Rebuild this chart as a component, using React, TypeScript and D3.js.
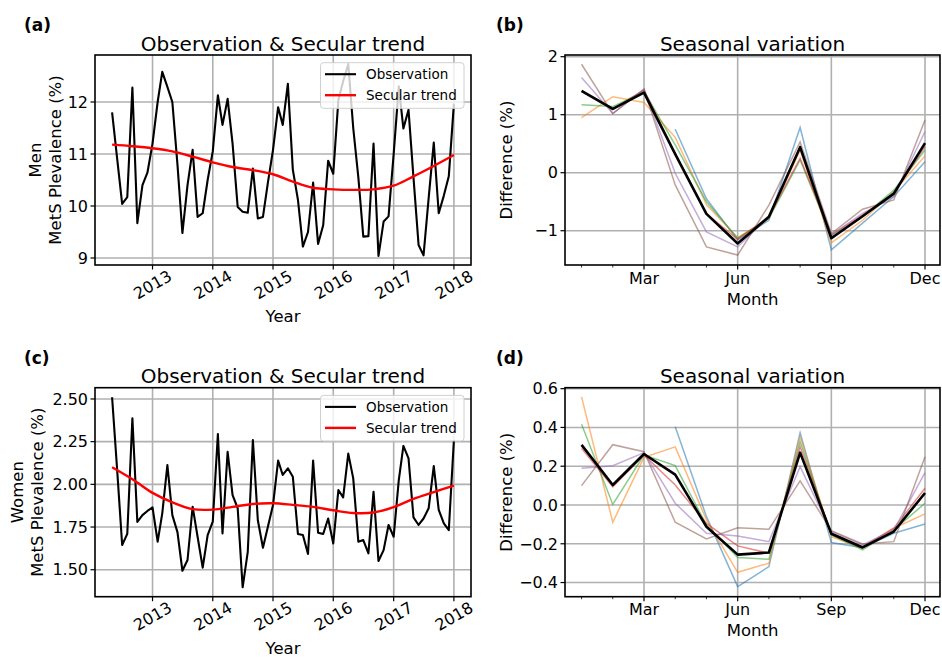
import React from "react";
import * as d3 from "d3";

const FONT = "'DejaVu Sans', Verdana, sans-serif";

// ---------- data ----------
const startMonth = new Date(2012, 4, 1); // May 2012, monthly to Jan 2018
const menObs = [
  11.80, 10.90, 10.04, 10.17, 12.28, 9.67, 10.40, 10.64,
  11.20, 12.00, 12.58, 12.29, 12.00, 10.80, 9.48, 10.40, 11.08, 9.79, 9.86, 10.50, 11.05, 12.13, 11.56, 12.06,
  11.20, 9.98, 9.89, 9.87, 10.72, 9.76, 9.79, 10.45, 11.08, 11.90, 11.56, 12.35,
  10.70, 10.12, 9.22, 9.50, 10.45, 9.27, 9.63, 10.87, 10.62, 12.04, 12.40, 12.73,
  11.50, 10.55, 9.41, 9.42, 11.20, 9.04, 9.70, 9.80, 11.00, 12.30, 11.49, 11.85,
  10.55, 9.25, 9.05, 10.15, 11.22, 9.86, 10.20, 10.57, 11.97,
];
const womenObs = [
  2.51, 2.08, 1.645, 1.71, 2.387, 1.78, 1.82, 1.844,
  1.865, 1.664, 1.83, 2.113, 1.82, 1.72, 1.494, 1.557, 1.869, 1.693, 1.512, 1.703, 1.781, 2.295,
  1.713, 2.19, 1.937, 1.86, 1.397, 1.605, 2.26, 1.79, 1.629, 1.752, 1.879, 2.139,
  2.055, 2.094, 2.045, 1.709, 1.703, 1.592, 2.139, 1.717, 1.709, 1.80, 1.654, 1.967,
  1.924, 2.18, 2.035, 1.664, 1.674, 1.596, 1.957, 1.551, 1.615, 1.762, 1.693, 2.025,
  2.225, 2.152, 1.807, 1.762, 1.80, 1.86, 2.107, 1.85, 1.771, 1.732, 2.26,
];
const trendStepMonths = 4;
const menTrend = [11.18, 11.15, 11.11, 11.05, 10.95, 10.84, 10.75, 10.69, 10.61, 10.47, 10.35, 10.32, 10.31, 10.32, 10.39, 10.57, 10.77, 10.98];
const womenTrend = [2.10, 2.03, 1.95, 1.895, 1.855, 1.852, 1.868, 1.885, 1.889, 1.88, 1.868, 1.848, 1.832, 1.835, 1.866, 1.915, 1.955, 1.993];

const yearTicks = [2013, 2014, 2015, 2016, 2017, 2018];
const menYTicks = [9, 10, 11, 12];
const womenYTicks = [1.5, 1.75, 2.0, 2.25, 2.5];
const menSeasonYTicks = [-1, 0, 1, 2];
const womenSeasonYTicks = [-0.4, -0.2, 0.0, 0.2, 0.4, 0.6];

const monthNames = ["Jan", "Feb", "Mar", "Apr", "May", "Jun", "Jul", "Aug", "Sep", "Oct", "Nov", "Dec"];
const majorMonths = [2, 5, 8, 11];
const seriesColors = ["#1f77b4", "#ff7f0e", "#2ca02c", "#d62728", "#9467bd", "#8c564b"];

const menSeasonC0 = [null, null, null, 0.75, -0.45, -1.16, -0.82, 0.78, -1.33, -0.87, -0.41, 0.19];
const menSeasonC1 = [0.95, 1.31, 1.21, 0.61, -0.55, -1.12, -0.79, 0.39, -1.21, -0.82, -0.33, 0.29];
const menSeasonC2 = [1.17, 1.14, 1.40, 0.48, -0.50, -1.13, -0.79, 0.22, -1.09, -0.76, -0.30, 0.39];
const menSeasonC3 = [1.40, 1.09, 1.43, 0.33, -0.71, -1.15, -0.76, 0.25, -1.07, -0.73, -0.36, 0.45];
const menSeasonC4 = [1.64, 1.02, 1.44, -0.01, -1.02, -1.28, -0.76, 0.45, -1.07, -0.70, -0.41, 0.71];
const menSeasonC5 = [1.87, 1.02, 1.44, -0.21, -1.28, -1.42, -0.56, 0.53, -1.05, -0.63, -0.47, 0.91];
const menSeasonMean = [1.41, 1.10, 1.38, 0.32, -0.71, -1.22, -0.76, 0.44, -1.13, -0.75, -0.36, 0.51];

const womenSeasonC0 = [null, null, null, 0.404, -0.06, -0.421, -0.318, 0.373, -0.194, -0.22, -0.146, -0.098];
const womenSeasonC1 = [0.558, -0.089, 0.246, 0.30, -0.077, -0.347, -0.30, 0.352, -0.163, -0.223, -0.12, -0.046];
const womenSeasonC2 = [0.416, 0.003, 0.258, 0.203, -0.103, -0.271, -0.28, 0.326, -0.155, -0.232, -0.129, 0.009];
const womenSeasonC3 = [0.292, 0.094, 0.258, 0.103, -0.095, -0.211, -0.249, 0.30, -0.146, -0.215, -0.12, 0.086];
const womenSeasonC4 = [0.189, 0.203, 0.27, 0.009, -0.146, -0.16, -0.189, 0.198, -0.137, -0.206, -0.129, 0.167];
const womenSeasonC5 = [0.10, 0.311, 0.275, -0.089, -0.175, -0.117, -0.125, 0.124, -0.132, -0.201, -0.189, 0.249];
const womenSeasonMean = [0.31, 0.103, 0.263, 0.157, -0.112, -0.256, -0.245, 0.27, -0.148, -0.219, -0.137, 0.062];

// ---------- layout ----------
const ROWS = [
  { top: 55, bottom: 265 },
  { top: 387.7, bottom: 596.7 },
];
const LEFT_COL = { left: 95, right: 471 };
const RIGHT_COL = { left: 565, right: 940 };
const GRID = "#b0b0b0";
const TICK_FS = 16;
const LABEL_FS = 16.5;
const TITLE_FS = 20;

type Box = { left: number; right: number; top: number; bottom: number };

function Frame({ b }: { b: Box }) {
  return (
    <rect x={b.left} y={b.top} width={b.right - b.left} height={b.bottom - b.top}
      fill="none" stroke="#000" strokeWidth={1.6} />
  );
}

function YAxis({ b, y, ticks, fmt }: { b: Box; y: d3.ScaleLinear<number, number>; ticks: number[]; fmt: (v: number) => string }) {
  return (
    <g>
      {ticks.map((t) => (
        <g key={t}>
          <line x1={b.left} x2={b.right} y1={y(t)} y2={y(t)} stroke={GRID} strokeWidth={1.6} />
          <line x1={b.left - 4.5} x2={b.left} y1={y(t)} y2={y(t)} stroke="#000" strokeWidth={1.2} />
          <text x={b.left - 7} y={y(t)} dy="0.36em" textAnchor="end" fontSize={TICK_FS} fontFamily={FONT}>{fmt(t)}</text>
        </g>
      ))}
    </g>
  );
}

function TimePanel({ row, obs, trend, yDomain, yTicks, fmt, title, label, group, ylabX }: any) {
  const b: Box = { ...LEFT_COL, ...ROWS[row] };
  const dates = obs.map((_: number, i: number) => d3.timeMonth.offset(startMonth, i));
  const first = dates[0].getTime();
  const last = dates[dates.length - 1].getTime();
  const pad = (last - first) * 0.05;
  const x = d3.scaleTime().domain([new Date(first - pad), new Date(last + pad)]).range([b.left, b.right]);
  const y = d3.scaleLinear().domain(yDomain).range([b.bottom, b.top]);
  const obsLine = d3.line<number>().x((_, i) => x(dates[i])).y((v) => y(v));
  const trendLine = d3.line<number>()
    .x((_, i) => x(d3.timeMonth.offset(startMonth, i * trendStepMonths)))
    .y((v) => y(v))
    .curve(d3.curveCatmullRom.alpha(0.5));
  const cx = (b.left + b.right) / 2;
  const ly = b.top + 7.7;
  const lx = b.right - 150.5;
  return (
    <g>
      <defs>
        <clipPath id={`clip-t${row}`}>
          <rect x={b.left} y={b.top} width={b.right - b.left} height={b.bottom - b.top} />
        </clipPath>
      </defs>
      {yearTicks.map((yr) => {
        const xx = x(new Date(yr, 0, 1));
        return (
          <g key={yr}>
            <line x1={xx} x2={xx} y1={b.top} y2={b.bottom} stroke={GRID} strokeWidth={1.6} />
            <line x1={xx} x2={xx} y1={b.bottom} y2={b.bottom + 4.5} stroke="#000" strokeWidth={1.2} />
            <text transform={`translate(${xx},${b.bottom + 19.5}) rotate(-30)`} textAnchor="middle" dy="0.36em"
              fontSize={TICK_FS} fontFamily={FONT}>{yr}</text>
          </g>
        );
      })}
      <YAxis b={b} y={y} ticks={yTicks} fmt={fmt} />
      <g clipPath={`url(#clip-t${row})`}>
        <path d={obsLine(obs) || ""} fill="none" stroke="#000" strokeWidth={2.1} strokeLinejoin="round" />
        <path d={trendLine(trend) || ""} fill="none" stroke="#ff0000" strokeWidth={2.4} />
      </g>
      <Frame b={b} />
      {/* legend */}
      <rect x={lx} y={ly} width={143.5} height={45.6} rx={3} fill="#fff" fillOpacity={0.8} stroke="#d0d0d0" strokeWidth={1} />
      <line x1={lx + 4.5} x2={lx + 35.5} y1={ly + 11.5} y2={ly + 11.5} stroke="#000" strokeWidth={2.1} />
      <line x1={lx + 4.5} x2={lx + 35.5} y1={ly + 32.5} y2={ly + 32.5} stroke="#ff0000" strokeWidth={2.4} />
      <text x={lx + 45.5} y={ly + 11.5} dy="0.36em" fontSize={13.5} fontFamily={FONT}>Observation</text>
      <text x={lx + 45.5} y={ly + 32.5} dy="0.36em" fontSize={13.5} fontFamily={FONT}>Secular trend</text>
      {/* titles */}
      <text x={cx} y={b.top - 4.5} textAnchor="middle" fontSize={TITLE_FS} fontFamily={FONT}>{title}</text>
      <text x={24} y={b.top - 24} fontSize={17} fontWeight="bold" fontFamily={FONT}>{label}</text>
      <text x={cx} y={b.bottom + 57} textAnchor="middle" fontSize={LABEL_FS} fontFamily={FONT}>Year</text>
      <text transform={`translate(${ylabX[0]},${(b.top + b.bottom) / 2}) rotate(-90)`} textAnchor="middle" dy="0.36em"
        fontSize={LABEL_FS} fontFamily={FONT}>{group}</text>
      <text transform={`translate(${ylabX[1]},${(b.top + b.bottom) / 2}) rotate(-90)`} textAnchor="middle" dy="0.36em"
        fontSize={LABEL_FS} fontFamily={FONT}>MetS Plevalence (%)</text>
    </g>
  );
}

function SeasonPanel({ row, series, mean, yDomain, yTicks, fmt, label }: any) {
  const b: Box = { ...RIGHT_COL, ...ROWS[row] };
  const months = d3.range(12);
  const x = d3.scaleLinear().domain([-0.53, 11.48]).range([b.left, b.right]);
  const y = d3.scaleLinear().domain(yDomain).range([b.bottom, b.top]);
  const line = d3.line<number | null>()
    .defined((v) => v !== null)
    .x((_, i) => x(months[i]))
    .y((v) => y(v as number));
  const cx = (b.left + b.right) / 2;
  return (
    <g>
      <defs>
        <clipPath id={`clip-s${row}`}>
          <rect x={b.left} y={b.top} width={b.right - b.left} height={b.bottom - b.top} />
        </clipPath>
      </defs>
      {months.map((m) => {
        const xx = x(m);
        const major = majorMonths.includes(m);
        return (
          <g key={m}>
            {major && <line x1={xx} x2={xx} y1={b.top} y2={b.bottom} stroke={GRID} strokeWidth={1.6} />}
            <line x1={xx} x2={xx} y1={b.bottom} y2={b.bottom + (major ? 4.5 : 2.5)} stroke="#000" strokeWidth={major ? 1.2 : 0.8} />
            {major && (
              <text x={xx} y={b.bottom + 18.5} textAnchor="middle" fontSize={TICK_FS} fontFamily={FONT}>{monthNames[m]}</text>
            )}
          </g>
        );
      })}
      <YAxis b={b} y={y} ticks={yTicks} fmt={fmt} />
      <g clipPath={`url(#clip-s${row})`}>
        {series.map((s: (number | null)[], i: number) => (
          <path key={i} d={line(s) || ""} fill="none" stroke={seriesColors[i]} strokeOpacity={0.55} strokeWidth={1.5} />
        ))}
        <path d={line(mean) || ""} fill="none" stroke="#000" strokeWidth={2.6} strokeLinejoin="round" />
      </g>
      <Frame b={b} />
      <text x={cx} y={b.top - 4.5} textAnchor="middle" fontSize={TITLE_FS} fontFamily={FONT}>Seasonal variation</text>
      <text x={496} y={b.top - 24} fontSize={17} fontWeight="bold" fontFamily={FONT}>{label}</text>
      <text x={cx} y={b.bottom + 39.5} textAnchor="middle" fontSize={LABEL_FS} fontFamily={FONT}>Month</text>
      <text transform={`translate(506,${(b.top + b.bottom) / 2}) rotate(-90)`} textAnchor="middle" dy="0.36em"
        fontSize={LABEL_FS} fontFamily={FONT}>Difference (%)</text>
    </g>
  );
}

const minus = (s: string) => s.replace("-", "\u2212");

export default function App() {
  return (
    <svg width={942} height={658} style={{ position: "absolute", left: 0, top: 0, background: "#fff" }}>
      <rect width={942} height={658} fill="#fff" />
      <TimePanel row={0} obs={menObs} trend={menTrend} yDomain={[8.865, 12.904]} yTicks={menYTicks}
        fmt={(v: number) => String(v)} title="Observation & Secular trend" label="(a)" group="Men" ylabX={[35, 55.3]} />
      <TimePanel row={1} obs={womenObs} trend={womenTrend} yDomain={[1.342, 2.566]} yTicks={womenYTicks}
        fmt={(v: number) => v.toFixed(2)} title="Observation & Secular trend" label="(c)" group="Women" ylabX={[17, 37]} />
      <SeasonPanel row={0} series={[menSeasonC0, menSeasonC1, menSeasonC2, menSeasonC3, menSeasonC4, menSeasonC5]}
        mean={menSeasonMean} yDomain={[-1.591, 2.029]} yTicks={menSeasonYTicks}
        fmt={(v: number) => minus(String(v))} label="(b)" />
      <SeasonPanel row={1} series={[womenSeasonC0, womenSeasonC1, womenSeasonC2, womenSeasonC3, womenSeasonC4, womenSeasonC5]}
        mean={womenSeasonMean} yDomain={[-0.473, 0.605]} yTicks={womenSeasonYTicks}
        fmt={(v: number) => minus(v.toFixed(1))} label="(d)" />
    </svg>
  );
}
